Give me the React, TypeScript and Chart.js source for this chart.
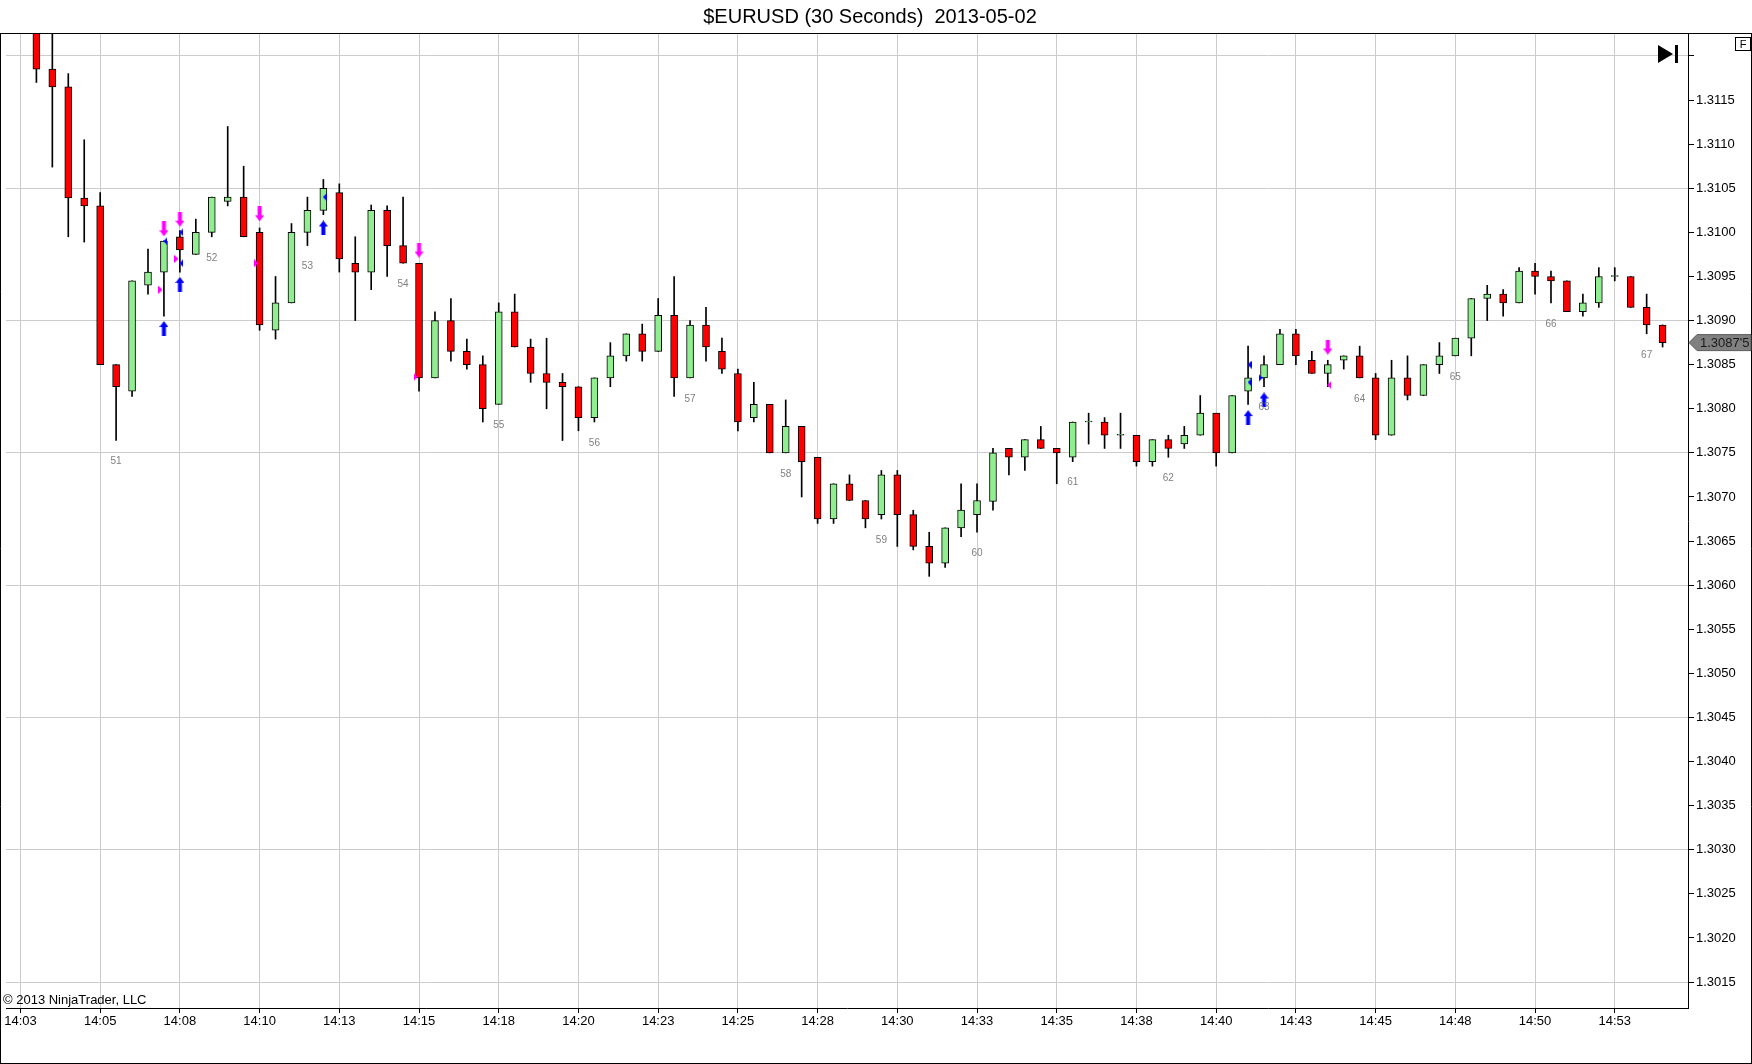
import React, { useEffect, useRef } from 'react';
import { Chart, registerables } from 'chart.js';

Chart.register(...registerables);

const TITLE = '$EURUSD (30 Seconds)  2013-05-02';
const COPYRIGHT = '© 2013 NinjaTrader, LLC';

// bar index of the first candle (one bar = 30 seconds, bar 0 = 14:02:30)
const FIRST_BAR = 1;

const OPEN = [
  1.3123, 1.31185, 1.31165, 1.31039, 1.3103, 1.3085, 1.3082, 1.3094, 1.30955, 1.30995,
  1.30975, 1.31, 1.31035, 1.3104, 1.31, 1.30889, 1.3092, 1.31, 1.31025, 1.31045,
  1.30965, 1.30955, 1.31025, 1.30985, 1.30965, 1.30835, 1.309, 1.30865, 1.3085, 1.30805,
  1.3091, 1.3087, 1.3084, 1.3083, 1.30825, 1.3079, 1.30835, 1.3086, 1.30885, 1.30865,
  1.30906, 1.30835, 1.30895, 1.30865, 1.3084, 1.3079, 1.30805, 1.3075, 1.3078, 1.30745,
  1.30675, 1.30715, 1.30696, 1.3068, 1.30725, 1.3068, 1.30644, 1.30625, 1.30665, 1.3068,
  1.30695, 1.30755, 1.30745, 1.30765, 1.30755, 1.30745, 1.30785, 1.30785, 1.3077, 1.3077,
  1.3074, 1.30765, 1.3076, 1.3077, 1.30795, 1.3075, 1.3082, 1.30835, 1.3085, 1.30885,
  1.30855, 1.3084, 1.30855, 1.3086, 1.30835, 1.3077, 1.30835, 1.30815, 1.3085, 1.3086,
  1.3088, 1.30925, 1.3093, 1.3092, 1.30956, 1.3095, 1.30945, 1.3091, 1.3092, 1.3095,
  1.3095, 1.30915, 1.30895,
];
const HIGH = [
  1.3124, 1.3123, 1.3118, 1.31105, 1.31045, 1.3085, 1.30945, 1.30981, 1.3099, 1.31002,
  1.31015, 1.3104, 1.3112, 1.31075, 1.31005, 1.3095, 1.3101, 1.3104, 1.3106, 1.31055,
  1.30995, 1.31031, 1.3103, 1.3104, 1.30965, 1.3091, 1.30925, 1.30879, 1.3086, 1.3092,
  1.3093, 1.30879, 1.3088, 1.3084, 1.30825, 1.30835, 1.30875, 1.30885, 1.30896, 1.30925,
  1.3095, 1.309, 1.30915, 1.3088, 1.30845, 1.3083, 1.30805, 1.3081, 1.3078, 1.30745,
  1.30715, 1.30725, 1.30696, 1.3073, 1.3073, 1.30685, 1.3066, 1.30665, 1.30715, 1.30715,
  1.30755, 1.30755, 1.30765, 1.3078, 1.30755, 1.30785, 1.30795, 1.3079, 1.30795, 1.3077,
  1.30765, 1.3077, 1.3078, 1.30815, 1.30795, 1.30815, 1.30871, 1.3086, 1.3089, 1.3089,
  1.30865, 1.30855, 1.3086, 1.30871, 1.3084, 1.30855, 1.3086, 1.3085, 1.30875, 1.3088,
  1.30925, 1.3094, 1.30935, 1.3096, 1.30965, 1.30956, 1.30945, 1.3093, 1.3096, 1.3096,
  1.3095, 1.3093, 1.30895,
];
const LOW = [
  1.3117, 1.31074, 1.30995, 1.30989, 1.3085, 1.30764, 1.30814, 1.3093, 1.30905, 1.30955,
  1.30975, 1.30995, 1.3103, 1.30995, 1.30889, 1.30879, 1.3092, 1.30985, 1.3102, 1.30955,
  1.309, 1.30935, 1.3095, 1.30965, 1.3082, 1.30835, 1.30854, 1.30845, 1.30785, 1.30805,
  1.3087, 1.3083, 1.308, 1.30764, 1.30775, 1.30785, 1.30825, 1.30854, 1.30854, 1.30865,
  1.30814, 1.30835, 1.30854, 1.3084, 1.30775, 1.30785, 1.3075, 1.3075, 1.307, 1.3067,
  1.3067, 1.30696, 1.30665, 1.30675, 1.30644, 1.3064, 1.3061, 1.3062, 1.30655, 1.3066,
  1.30685, 1.30725, 1.3073, 1.30755, 1.30715, 1.3074, 1.3076, 1.30755, 1.30755, 1.30735,
  1.30735, 1.30745, 1.30755, 1.3077, 1.30735, 1.3075, 1.30805, 1.30825, 1.3085, 1.3085,
  1.3084, 1.30825, 1.30845, 1.30835, 1.30765, 1.3077, 1.3081, 1.30815, 1.3084, 1.3086,
  1.3086, 1.309, 1.30905, 1.3092, 1.3093, 1.3092, 1.3091, 1.30905, 1.30915, 1.30945,
  1.30915, 1.30885, 1.3087,
];
const CLOSE = [
  1.31185, 1.31165, 1.31039, 1.3103, 1.3085, 1.30825, 1.30945, 1.30955, 1.3099, 1.3098,
  1.31, 1.3104, 1.3104, 1.30995, 1.30895, 1.3092, 1.31, 1.31025, 1.3105, 1.3097,
  1.30955, 1.31025, 1.30985, 1.30965, 1.30835, 1.309, 1.30865, 1.3085, 1.308, 1.3091,
  1.3087, 1.3084, 1.3083, 1.30825, 1.3079, 1.30835, 1.3086, 1.30885, 1.30865, 1.30906,
  1.30835, 1.30895, 1.3087, 1.30845, 1.30785, 1.30805, 1.3075, 1.3078, 1.3074, 1.30675,
  1.30715, 1.30696, 1.30675, 1.30725, 1.3068, 1.30644, 1.30625, 1.30665, 1.30685, 1.30696,
  1.3075, 1.30745, 1.30765, 1.30755, 1.3075, 1.30785, 1.30785, 1.3077, 1.3077, 1.3074,
  1.30765, 1.30755, 1.3077, 1.30795, 1.3075, 1.30815, 1.30835, 1.3085, 1.30885, 1.3086,
  1.3084, 1.3085, 1.3086, 1.30835, 1.3077, 1.30835, 1.30815, 1.3085, 1.3086, 1.3088,
  1.30925, 1.3093, 1.3092, 1.30956, 1.3095, 1.30945, 1.3091, 1.3092, 1.3095, 1.3095,
  1.30915, 1.30895, 1.30875,
];

const X_TICK_BARS = [0, 5, 10, 15, 20, 25, 30, 35, 40, 45, 50, 55, 60, 65, 70, 75, 80, 85, 90, 95, 100];
const X_TICK_LABELS = [
  '14:03', '14:05', '14:08', '14:10', '14:13', '14:15', '14:18', '14:20', '14:23', '14:25', '14:28',
  '14:30', '14:33', '14:35', '14:38', '14:40', '14:43', '14:45', '14:48', '14:50', '14:53',
];
const Y_TICKS = [
  1.3015, 1.302, 1.3025, 1.303, 1.3035, 1.304, 1.3045, 1.305, 1.3055, 1.306, 1.3065,
  1.307, 1.3075, 1.308, 1.3085, 1.309, 1.3095, 1.31, 1.3105, 1.311, 1.3115, 1.312,
];
const Y_HIDDEN_LABEL = 1.312;

const COUNT_LABELS = ['51', '52', '53', '54', '55', '56', '57', '58', '59', '60', '61', '62', '63', '64', '65', '66', '67'];
const COUNT_LABEL_BARS = [6, 12, 18, 24, 30, 36, 42, 48, 54, 60, 66, 72, 78, 84, 90, 96, 102];

const BUY_ARROWS = [
  { bar: 9, price: 1.30891 }, { bar: 10, price: 1.30941 }, { bar: 19, price: 1.31005 },
  { bar: 77, price: 1.3079 }, { bar: 78, price: 1.3081 },
];
const SELL_ARROWS = [
  { bar: 9, price: 1.31004 }, { bar: 10, price: 1.31015 }, { bar: 15, price: 1.31021 },
  { bar: 25, price: 1.3098 }, { bar: 82, price: 1.3087 },
];
const BLUE_LEFT_MARKS = [
  { bar: 9, price: 1.3099 }, { bar: 10, price: 1.31 }, { bar: 10, price: 1.30965 },
  { bar: 19, price: 1.3104 }, { bar: 77, price: 1.3085 }, { bar: 77, price: 1.3083 },
];
const BLUE_RIGHT_MARKS = [{ bar: 78, price: 1.30835 }];
const MAGENTA_RIGHT_MARKS = [
  { bar: 9, price: 1.30935 }, { bar: 10, price: 1.3097 }, { bar: 15, price: 1.30965 }, { bar: 25, price: 1.30836 },
];
const MAGENTA_LEFT_MARKS = [{ bar: 82, price: 1.30827 }];

// axis window
const X_MIN = -0.90625;
const X_MAX = 104.59375;
const Y_MIN = 1.301206;
const Y_MAX = 1.312249;

const W = 1752;
const H = 1064;
const GRID = '#cccccc';
const UP_COLOR = '#90EE90';
const DOWN_COLOR = '#FF0000';
const BLUE = '#0000FF';
const MAGENTA = '#FF00FF';
const FONT = '"Liberation Sans", Arial, sans-serif';
const LEFT_MARK_SHIFT = 0.09375;
const RIGHT_MARK_SHIFT = -0.21875;

function makeShape(w: number, h: number, color: string, pts: number[][]): HTMLCanvasElement {
  const c = document.createElement('canvas');
  c.width = w;
  c.height = h;
  const g = c.getContext('2d') as CanvasRenderingContext2D;
  g.fillStyle = color;
  g.beginPath();
  g.moveTo(pts[0][0], pts[0][1]);
  for (let i = 1; i < pts.length; i++) g.lineTo(pts[i][0], pts[i][1]);
  g.closePath();
  g.fill();
  return c;
}

const makeUpArrow = (color: string) =>
  makeShape(9, 15, color, [[4.5, 0], [9, 6], [6.5, 6], [6.5, 15], [2.5, 15], [2.5, 6], [0, 6]]);
const makeDownArrow = (color: string) =>
  makeShape(9, 15, color, [[4.5, 15], [9, 9], [6.5, 9], [6.5, 0], [2.5, 0], [2.5, 9], [0, 9]]);
const makeLeftTri = (color: string) => makeShape(4, 8, color, [[0, 4], [4, 0], [4, 8]]);
const makeRightTri = (color: string) => makeShape(4, 8, color, [[4, 4], [0, 0], [0, 8]]);

const decorPlugin = {
  id: 'ntDecor',
  afterDatasetsDraw(chart: any) {
    const { ctx, scales } = chart;
    const xs = scales.x;
    const ys = scales.y;
    ctx.save();
    ctx.font = '10px ' + FONT;
    ctx.fillStyle = '#808080';
    ctx.textAlign = 'center';
    ctx.textBaseline = 'middle';
    COUNT_LABELS.forEach((lab, i) => {
      const bar = COUNT_LABEL_BARS[i];
      const low = LOW[bar - FIRST_BAR];
      ctx.fillText(lab, xs.getPixelForValue(bar), ys.getPixelForValue(low) + 21);
    });
    ctx.restore();
  },
  afterDraw(chart: any) {
    const { ctx, scales } = chart;
    const ys = scales.y;
    const area = chart.chartArea;
    ctx.save();
    // frame
    ctx.strokeStyle = '#000';
    ctx.lineWidth = 1;
    ctx.beginPath();
    ctx.moveTo(0, 33.5);
    ctx.lineTo(W, 33.5);
    ctx.moveTo(0.5, 33.5);
    ctx.lineTo(0.5, H);
    ctx.moveTo(W - 0.5, 33.5);
    ctx.lineTo(W - 0.5, H);
    ctx.moveTo(0, H - 0.5);
    ctx.lineTo(W, H - 0.5);
    ctx.stroke();

    // title
    ctx.fillStyle = '#000';
    ctx.font = '20px ' + FONT;
    ctx.textAlign = 'center';
    ctx.textBaseline = 'alphabetic';
    ctx.fillText(TITLE, 870, 23);

    // copyright
    ctx.font = '13px ' + FONT;
    ctx.textAlign = 'left';
    ctx.fillText(COPYRIGHT, 3, area.bottom - 4);

    // "go to end" icon
    const ix = area.right - 30;
    ctx.beginPath();
    ctx.moveTo(ix, 45);
    ctx.lineTo(ix + 15, 54);
    ctx.lineTo(ix, 63);
    ctx.closePath();
    ctx.fill();
    ctx.fillRect(ix + 17, 45, 3, 18);

    // F box
    ctx.strokeRect(1735.5, 37.5, 15, 13);
    ctx.font = '11px ' + FONT;
    ctx.textAlign = 'center';
    ctx.textBaseline = 'middle';
    ctx.fillText('F', 1743, 44.5);

    // last price marker
    const last = CLOSE[CLOSE.length - 1];
    const py = ys.getPixelForValue(last);
    const ax = area.right + 1;
    ctx.beginPath();
    ctx.moveTo(ax, py);
    ctx.lineTo(ax + 8, py - 8);
    ctx.lineTo(W - 1, py - 8);
    ctx.lineTo(W - 1, py + 8);
    ctx.lineTo(ax + 8, py + 8);
    ctx.closePath();
    ctx.fillStyle = '#808080';
    ctx.fill();
    ctx.strokeStyle = '#5a5a5a';
    ctx.stroke();
    const s = last.toFixed(5);
    ctx.fillStyle = '#1a1a1a';
    ctx.font = '13px ' + FONT;
    ctx.textAlign = 'left';
    ctx.textBaseline = 'middle';
    ctx.fillText(s.slice(0, 6) + "'" + s.slice(6), ax + 11, py + 0.5);
    ctx.restore();
  },
};

export default function App() {
  const ref = useRef<HTMLCanvasElement | null>(null);

  useEffect(() => {
    const canvas = ref.current;
    if (!canvas) return;
    const bars = OPEN.map((_, i) => FIRST_BAR + i);
    const toPts = (arr: { bar: number; price: number }[], shift: number) =>
      arr.map((m) => ({ x: m.bar + shift, y: m.price }));

    const marker = (data: any[], style: HTMLCanvasElement) => ({
      type: 'scatter' as const,
      data,
      pointStyle: style,
      pointRadius: 5,
      order: 0,
    });

    const chart = new Chart(canvas, {
      type: 'bar',
      data: {
        datasets: [
          marker(toPts(BUY_ARROWS, 0), makeUpArrow(BLUE)) as any,
          marker(toPts(SELL_ARROWS, 0), makeDownArrow(MAGENTA)) as any,
          marker(toPts(BLUE_LEFT_MARKS, LEFT_MARK_SHIFT), makeLeftTri(BLUE)) as any,
          marker(toPts(BLUE_RIGHT_MARKS, RIGHT_MARK_SHIFT), makeRightTri(BLUE)) as any,
          marker(toPts(MAGENTA_RIGHT_MARKS, RIGHT_MARK_SHIFT), makeRightTri(MAGENTA)) as any,
          marker(toPts(MAGENTA_LEFT_MARKS, LEFT_MARK_SHIFT), makeLeftTri(MAGENTA)) as any,
          {
            type: 'bar',
            data: bars.map((b, i) => ({ x: b, y: [OPEN[i], CLOSE[i]] })),
            backgroundColor: OPEN.map((o, i) => (CLOSE[i] >= o ? UP_COLOR : DOWN_COLOR)),
            borderColor: '#000',
            borderWidth: 1,
            borderSkipped: false,
            barThickness: 7,
            minBarLength: 1,
            grouped: false,
            order: 2,
          } as any,
          {
            type: 'bar',
            data: bars.map((b, i) => ({ x: b, y: [LOW[i], HIGH[i]] })),
            backgroundColor: '#000',
            borderWidth: 0,
            barThickness: 1,
            grouped: false,
            order: 3,
          } as any,
        ],
      },
      options: {
        animation: false,
        responsive: false,
        devicePixelRatio: 1,
        events: [],
        layout: { padding: { top: 34, left: 0, right: 0, bottom: 0 } },
        plugins: {
          legend: { display: false },
          tooltip: { enabled: false },
          title: { display: false },
        },
        scales: {
          x: {
            type: 'linear',
            position: 'bottom',
            min: X_MIN,
            max: X_MAX,
            offset: false,
            grid: {
              offset: false,
              color: GRID,
              lineWidth: 1,
              drawTicks: true,
              tickLength: 5,
              tickColor: '#000',
            },
            border: { display: true, color: '#000', width: 1 },
            afterBuildTicks: (scale: any) => {
              scale.ticks = X_TICK_BARS.map((v) => ({ value: v }));
            },
            afterFit: (scale: any) => {
              scale.height = H - 1008;
              scale.paddingLeft = 0;
              scale.paddingRight = 0;
            },
            ticks: {
              autoSkip: false,
              maxRotation: 0,
              minRotation: 0,
              padding: 1,
              color: '#000',
              font: { family: FONT, size: 13 },
              callback: (v: any) => {
                const i = X_TICK_BARS.indexOf(Number(v));
                return i >= 0 ? X_TICK_LABELS[i] : '';
              },
            },
          },
          y: {
            type: 'linear',
            position: 'right',
            min: Y_MIN,
            max: Y_MAX,
            grid: {
              color: (c: any) => {
                if (!c.tick) return 'rgba(0,0,0,0)';
                const i = Math.round((c.tick.value - Y_TICKS[0]) / 0.0005);
                return i % 3 === 0 ? GRID : 'rgba(0,0,0,0)';
              },
              lineWidth: 1,
              drawTicks: true,
              tickLength: 6,
              tickColor: '#000',
            },
            border: { display: true, color: '#000', width: 1 },
            afterBuildTicks: (scale: any) => {
              scale.ticks = Y_TICKS.map((v) => ({ value: v }));
            },
            afterFit: (scale: any) => {
              scale.width = W - 1688;
              scale.paddingTop = 0;
              scale.paddingBottom = 0;
            },
            ticks: {
              autoSkip: false,
              padding: 2,
              color: '#000',
              font: { family: FONT, size: 13 },
              callback: (v: any) =>
                Math.abs(Number(v) - Y_HIDDEN_LABEL) < 1e-9 ? '' : Number(v).toFixed(4),
            },
          },
        },
      },
      plugins: [decorPlugin],
    } as any);

    return () => chart.destroy();
  }, []);

  return (
    <div style={{ position: 'absolute', left: 0, top: 0, width: W, height: H, background: '#fff' }}>
      <canvas ref={ref} width={W} height={H} style={{ display: 'block', width: W, height: H }} />
    </div>
  );
}
